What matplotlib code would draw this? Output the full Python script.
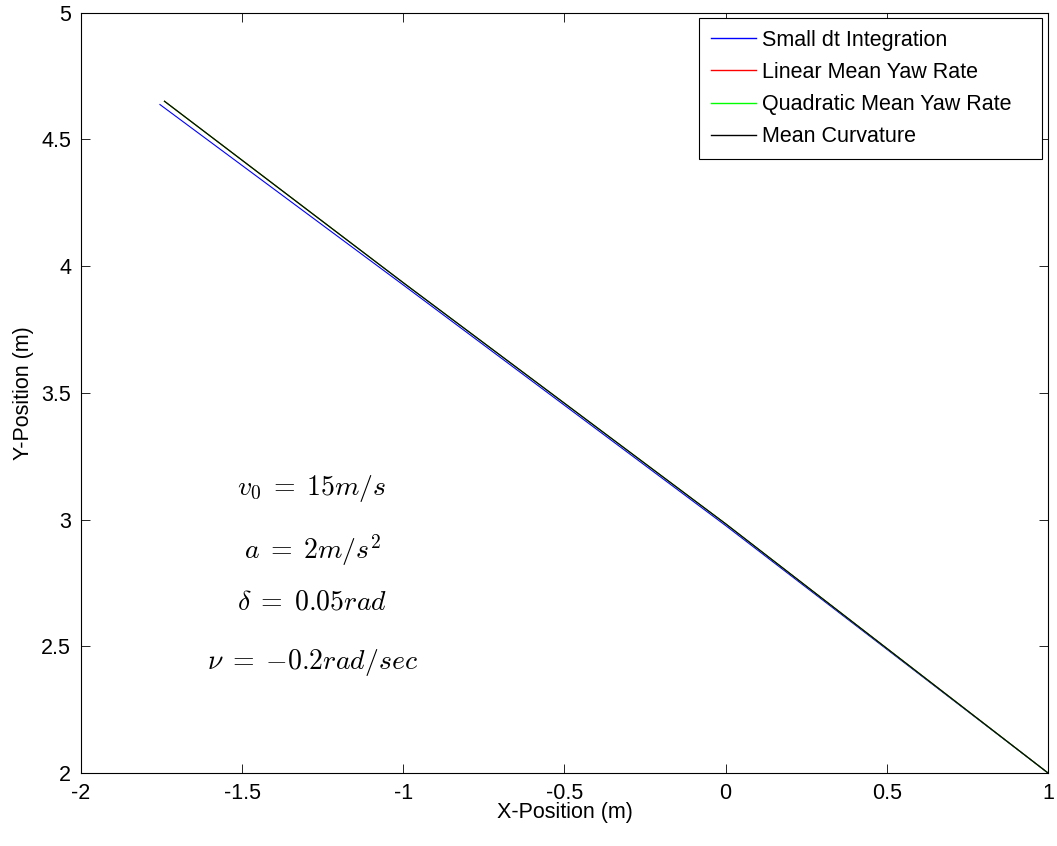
import matplotlib.pyplot as plt

plt.rcParams['font.family'] = ['Liberation Sans', 'DejaVu Sans']
plt.rcParams['mathtext.fontset'] = 'cm'

# trajectories (x, y in metres)
x_small_dt = [-1.755, -1.0, 0.0, 1.0]
y_small_dt = [4.637, 3.925, 2.976, 2.0]
x_mean = [-1.741, -1.0, 0.0, 1.0]
y_mean = [4.650, 3.934, 2.983, 2.0]

labels = ["Small dt Integration", "Linear Mean Yaw Rate",
          "Quadratic Mean Yaw Rate", "Mean Curvature"]
params = [r"$v_0 \;=\; 15m/s$", r"$a \;=\; 2m/s^2$",
          r"$\delta \;=\; 0.05rad$", r"$\nu \;=\; {-}0.2rad/sec$"]
param_y = [3.121, 2.88, 2.671, 2.434]

fig = plt.figure(figsize=(10.57, 8.46), dpi=100)
ax = fig.add_axes([0.0766, 0.0863, 0.9149, 0.8989])

ax.plot(x_small_dt, y_small_dt, color="#0000ff", lw=0.8, label=labels[0])
ax.plot(x_mean, y_mean, color="#ff0000", lw=0.8, label=labels[1])
ax.plot(x_mean, y_mean, color="#00ff00", lw=0.8, label=labels[2])
ax.plot(x_mean, y_mean, color="#000000", lw=0.8, label=labels[3])

for txt, yy in zip(params, param_y):
    ax.text(-1.283, yy, txt, ha="center", va="center", fontsize=20)

ax.set_xlim(-2, 1)
ax.set_ylim(2, 5)
ax.set_xticks([-2, -1.5, -1, -0.5, 0, 0.5, 1])
ax.set_xticklabels(["-2", "-1.5", "-1", "-0.5", "0", "0.5", "1"])
ax.set_yticks([2, 2.5, 3, 3.5, 4, 4.5, 5])
ax.set_yticklabels(["2", "2.5", "3", "3.5", "4", "4.5", "5"])
ax.tick_params(direction="in", length=6.5, width=0.6, top=True, right=True,
               labelsize=15.5, pad=7)
for s in ax.spines.values():
    s.set_linewidth(0.8)

ax.set_xlabel("X-Position (m)", fontsize=15.5, labelpad=-1)
ax.set_ylabel("Y-Position (m)", fontsize=15.5, labelpad=5)

# matlab-style box: wider than its text, so stretch it over a fixed span
leg = ax.legend(loc="upper left", bbox_to_anchor=(0.639, 0.9928, 0.3548, 0),
                mode="expand", borderaxespad=0, fontsize=15.5, fancybox=False,
                framealpha=1, edgecolor="black",
                handlelength=2.1, handletextpad=0.3, labelspacing=0.52,
                borderpad=0.55)
leg.get_frame().set_linewidth(0.8)
for h in leg.get_lines():
    h.set_linewidth(1.0)

fig.savefig("out.png", dpi=100)
